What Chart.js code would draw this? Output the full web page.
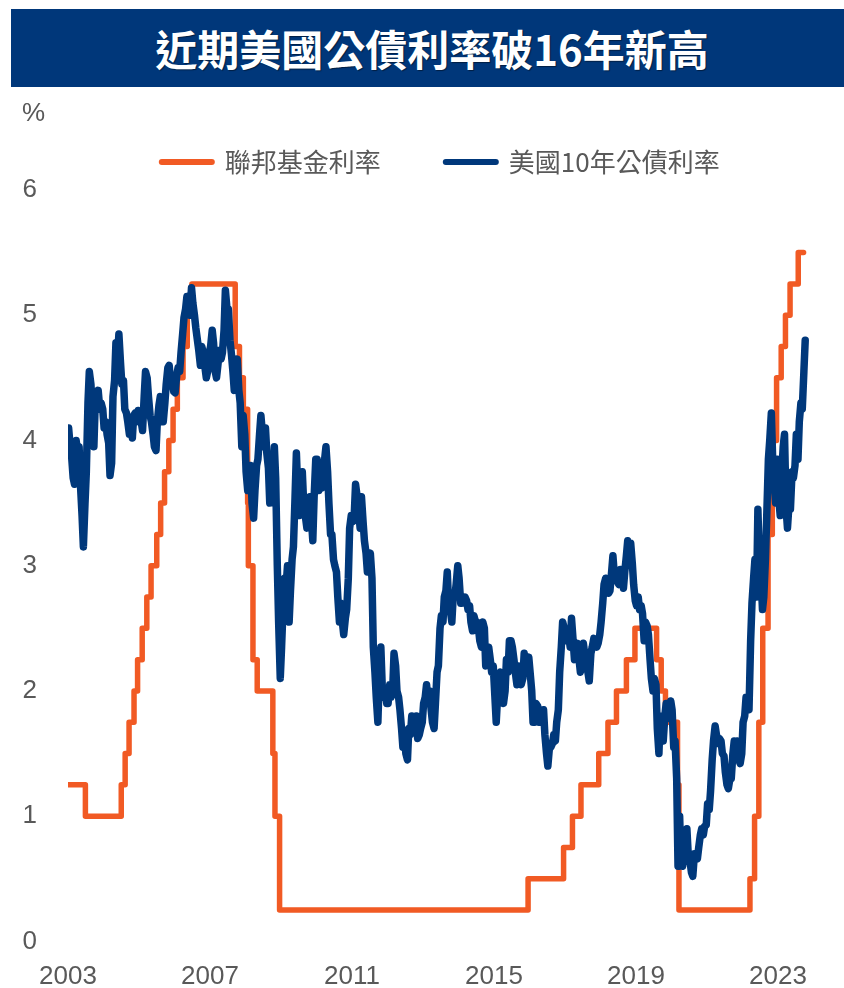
<!DOCTYPE html>
<html>
<head>
<meta charset="utf-8">
<script src="https://cdn.jsdelivr.net/npm/chart.js@4"></script>
<style>
html,body{margin:0;padding:0;background:#fff;}
#wrap{position:relative;width:844px;height:988px;overflow:hidden;}
#banner{position:absolute;left:11px;top:9px;width:833px;height:78px;box-sizing:border-box;padding-left:9px;
  background:#00377a;color:#fff;font:bold 42px "Noto Sans CJK TC",sans-serif;line-height:78px;text-align:center;
  text-shadow:1px 1px 1px rgba(0,0,0,.45);}
canvas{position:absolute;left:0;top:0;}
</style>
</head>
<body>
<div id="wrap">
  <canvas id="c" width="844" height="988"></canvas>
  <div id="banner">近期美國公債利率破16年新高</div>
</div>
<script>
const tickYears=[2003,2007,2011,2015,2019,2023];

// fed funds target (upper bound), change dates as decimal years
const fedDates=[2003.00,2003.49,2004.50,2004.61,2004.72,2004.86,2004.96,2005.09,2005.22,2005.34,2005.50,2005.61,2005.72,2005.84,2005.96,
  2006.08,2006.24,2006.36,2006.49,2007.71,2007.83,2007.94,2008.06,2008.08,2008.21,2008.33,2008.77,2008.83,2008.96,
  2015.96,2016.96,2017.21,2017.45,2017.95,2018.21,2018.45,2018.73,2018.97,2019.58,2019.71,2019.83,2020.17,2020.21,
  2022.21,2022.34,2022.46,2022.57,2022.72,2022.84,2022.96,2023.09,2023.21,2023.34,2023.57,2023.72];
const fedRates=[1.25,1.00,1.25,1.50,1.75,2.00,2.25,2.50,2.75,3.00,3.25,3.50,3.75,4.00,4.25,
  4.50,4.75,5.00,5.25,4.75,4.50,4.25,3.50,3.00,2.25,2.00,1.50,1.00,0.25,
  0.50,0.75,1.00,1.25,1.50,1.75,2.00,2.25,2.50,2.25,2.00,1.75,1.25,0.25,
  0.50,1.00,1.75,2.50,3.25,4.00,4.50,4.75,5.00,5.25,5.50,5.50];

// 10y treasury yield, two readings per month starting Jan 2003
const yieldStart=2003;
const yield10y=[
  4.10,3.95,3.88,3.70,3.65,4.00,3.92,3.95,3.65,3.40,3.15,3.50,3.75,4.30,4.55,4.45,4.25,3.95,4.30,4.30,4.40,4.25,4.30,4.25,
  4.10,4.15,4.05,3.98,3.72,3.82,4.35,4.48,4.78,4.65,4.85,4.62,4.45,4.48,4.25,4.22,4.15,4.05,4.10,4.02,4.20,4.22,4.15,4.24,
  4.22,4.15,4.08,4.35,4.55,4.50,4.35,4.20,4.15,4.05,3.95,3.92,4.15,4.28,4.35,4.15,4.15,4.30,4.45,4.58,4.60,4.45,4.48,4.39,
  4.38,4.52,4.58,4.55,4.70,4.85,4.98,5.05,5.15,5.05,5.00,5.22,5.10,5.00,4.90,4.80,4.72,4.60,4.75,4.70,4.60,4.50,4.55,4.70,
  4.75,4.88,4.78,4.55,4.50,4.62,4.72,4.65,4.70,4.88,5.20,5.05,5.05,4.80,4.70,4.55,4.40,4.60,4.65,4.40,4.30,3.95,4.20,4.05,
  3.75,3.60,3.70,3.80,3.50,3.38,3.60,3.80,3.85,4.05,4.20,4.05,3.95,4.10,3.90,3.78,3.50,3.85,3.60,3.95,3.70,3.00,2.55,2.10,
  2.35,2.70,2.90,2.85,3.00,2.55,2.80,3.05,3.15,3.55,3.90,3.55,3.40,3.65,3.75,3.45,3.40,3.30,3.35,3.55,3.40,3.20,3.55,3.85,
  3.85,3.60,3.70,3.62,3.70,3.85,3.95,3.75,3.50,3.25,3.25,3.05,3.00,2.95,2.75,2.55,2.70,2.55,2.45,2.58,2.65,2.90,3.30,3.40,
  3.35,3.40,3.65,3.55,3.45,3.30,3.55,3.35,3.20,3.10,2.95,3.05,3.10,2.90,2.35,2.15,1.95,1.75,2.10,2.35,2.05,1.95,2.00,1.90,
  1.90,2.05,1.95,2.00,2.30,2.20,2.00,1.95,1.85,1.70,1.55,1.65,1.50,1.45,1.70,1.65,1.80,1.70,1.70,1.80,1.62,1.65,1.70,1.75,
  1.90,1.95,2.05,1.90,2.00,1.85,1.75,1.70,1.90,2.15,2.20,2.50,2.60,2.55,2.75,2.80,2.95,2.65,2.65,2.55,2.75,2.75,2.85,3.00,
  2.90,2.70,2.70,2.72,2.75,2.72,2.65,2.68,2.55,2.48,2.60,2.55,2.55,2.50,2.40,2.35,2.55,2.50,2.20,2.30,2.35,2.25,2.15,2.20,
  2.00,1.75,1.95,2.10,2.15,1.95,1.90,2.00,2.25,2.15,2.40,2.40,2.35,2.25,2.15,2.05,2.20,2.10,2.05,2.10,2.30,2.22,2.20,2.27,
  2.15,2.00,1.75,1.75,1.90,1.88,1.75,1.85,1.75,1.85,1.65,1.50,1.40,1.55,1.55,1.58,1.65,1.60,1.75,1.85,2.15,2.35,2.55,2.50,
  2.40,2.48,2.45,2.35,2.58,2.40,2.25,2.30,2.38,2.25,2.15,2.22,2.38,2.28,2.22,2.15,2.08,2.30,2.35,2.42,2.38,2.35,2.38,2.45,
  2.55,2.70,2.85,2.90,2.88,2.78,2.80,2.95,3.08,2.90,2.95,2.87,2.85,2.97,2.90,2.82,2.95,3.08,3.20,3.10,3.18,3.02,2.85,2.72,
  2.68,2.75,2.65,2.68,2.62,2.40,2.55,2.52,2.45,2.25,2.10,2.00,2.10,2.05,1.70,1.50,1.80,1.68,1.60,1.80,1.90,1.78,1.85,1.92,
  1.85,1.55,1.60,1.30,0.60,1.00,0.65,0.60,0.70,0.65,0.90,0.65,0.65,0.55,0.52,0.70,0.68,0.66,0.75,0.85,0.90,0.85,0.92,0.93,
  1.10,1.05,1.20,1.45,1.60,1.72,1.65,1.58,1.62,1.60,1.50,1.48,1.35,1.25,1.22,1.30,1.30,1.50,1.60,1.55,1.60,1.45,1.42,1.50,
  1.75,1.80,1.95,1.95,1.85,2.40,2.70,2.90,3.05,2.75,3.45,3.00,2.95,2.65,2.75,3.05,3.40,3.85,4.00,4.22,3.85,3.65,3.50,3.85,
  3.55,3.40,3.70,3.95,4.05,3.45,3.30,3.50,3.45,3.75,3.70,3.80,4.05,3.85,4.15,4.30,4.25,4.55,4.80
];

const orange='#f15a24', navy='#00387b', grey='#595959';
const tickFont={family:'"Liberation Sans", Arial, sans-serif',size:26};

const fedPoints=fedDates.map((x,i)=>({x,y:fedRates[i]}));
// first and second half of each month; the last reading sits at end of September
const yieldPoints=yield10y.map((v,i)=>({x:yieldStart+(Math.floor(i/2)+(i%2?0.75:0.2))/12,y:v}));

// extra space under the legend row
const legendGap={id:'legendGap',beforeInit(chart){
  const fit=chart.legend.fit;
  chart.legend.fit=function(){fit.call(this);this.height+=5;};
}};
// unit label above the y axis
const unitLabel={id:'unitLabel',afterDraw(chart){
  const ctx=chart.ctx;
  ctx.save();
  ctx.font='26px "Liberation Sans", Arial, sans-serif';
  ctx.fillStyle=grey;ctx.textBaseline='middle';ctx.textAlign='left';
  ctx.fillText('%',chart.scales.y.left+22,114);
  ctx.restore();
}};

new Chart(document.getElementById('c'),{
  type:'line',
  data:{datasets:[
    {label:'聯邦基金利率',data:fedPoints,borderColor:orange,backgroundColor:orange,borderWidth:5.5,stepped:true,
     pointRadius:0,borderJoinStyle:'round',borderCapStyle:'round',order:1},
    {label:'美國10年公債利率',data:yieldPoints,borderColor:navy,backgroundColor:navy,borderWidth:7.5,tension:0,
     pointRadius:0,borderJoinStyle:'round',borderCapStyle:'round',order:0}
  ]},
  options:{
    responsive:false,animation:false,
    layout:{padding:{top:84,right:30.5,bottom:0,left:0}},
    scales:{
      x:{type:'linear',min:2003,max:2024,
        grid:{display:false,drawTicks:false},border:{display:false},
        ticks:{padding:20,color:grey,font:tickFont,maxRotation:0,autoSkip:false,callback:v=>String(v)},
        afterBuildTicks:s=>{s.ticks=tickYears.map(v=>({value:v}));},
        afterFit:s=>{s.height=46;}},
      y:{min:0,max:6,
        grid:{display:false,drawTicks:false},border:{display:false},
        ticks:{stepSize:1,padding:31,color:grey,font:tickFont},
        afterFit:s=>{s.width=68;}}
    },
    plugins:{
      legend:{position:'top',fullSize:false,
        labels:{usePointStyle:true,pointStyle:'line',pointStyleWidth:50,padding:65,color:grey,
          font:{family:'"Noto Sans CJK TC", sans-serif',size:26},
          sort:(a,b)=>a.datasetIndex-b.datasetIndex,
          generateLabels:chart=>Chart.defaults.plugins.legend.labels.generateLabels(chart)
            .map(l=>Object.assign(l,{lineWidth:6,lineCap:'round'}))}},
      tooltip:{enabled:false}
    }
  },
  plugins:[legendGap,unitLabel]
});
</script>
</body>
</html>
